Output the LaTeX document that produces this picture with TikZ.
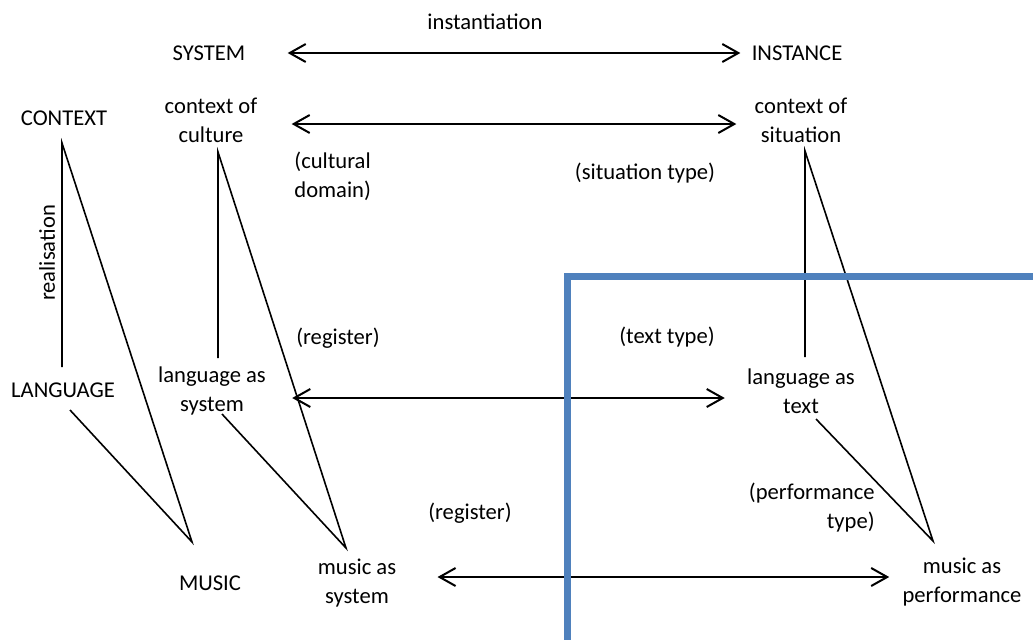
\documentclass[tikz,border=0pt]{standalone}
\usepackage{fontspec}
\setmainfont{Carlito}
\usetikzlibrary{arrows.meta}
\definecolor{boxblue}{RGB}{79,129,189}

\begin{document}
\begin{tikzpicture}[x=0.5pt, y=-0.5pt]
	\tikzstyle{term}  = [font=\fontsize{11.3}{14.5}\selectfont, inner sep=0pt, align=center]
	\tikzstyle{termL} = [term, anchor=west, align=left]
	\tikzstyle{termR} = [term, anchor=east, align=right]
	\tikzstyle{link}  = [line width=0.8pt]
	\tikzstyle{inst}  = [{Straight Barb[length=8pt,width=9pt]}-{Straight Barb[length=8pt,width=9pt]}, line width=1pt]

	\useasboundingbox (0,0) rectangle (1033,639);
	\clip (0,0) rectangle (1033,639);

	\foreach \name/\x/\y/\text in {inst/485/22/instantiation, sys/209/53/SYSTEM, instance/797/53/INSTANCE,
			ctx/64/118/CONTEXT, cult/211/120/{context of\\culture}, sit/801/120/{context of\\situation},
			sittype/645/173/{(situation type)}, reg1/338/338/{(register)}, texttype/667/337/{(text type)},
			lang/63/390/LANGUAGE, langsys/212/391/{language as\\system}, langtext/801/391/{language as\\text},
			reg2/470/513/{(register)}, music/210/583/MUSIC, musicsys/357/583/{music as\\system},
			musicperf/962/582/{music as\\performance}}
		\node[term] (\name) at (\x, \y) {\text};
	\node[termL] (culdom) at (294, 176) {(cultural\\domain)};
	\node[termR] (perftype) at (875, 508) {(performance\\type)};
	\node[term, rotate=90] (realis) at (47, 253) {realisation};

	% instantiation arrows
	\foreach \from/\to/\y/\s/\e in {sys/instance/53/21pt/5.5pt, cult/sit/124/17pt/9pt, langsys/langtext/398/13pt/11pt, musicsys/musicperf/577/20.5pt/6.5pt}
		\draw[inst, shorten <=\s, shorten >=\e] (\from.east |- 0,\y) -- (\to.west |- 0,\y);

	% realisation triangles
	\coordinate (ctxtop) at (62, 143);
	\coordinate (langtop) at (62, 367);
	\coordinate (langfoot) at (70, 410);
	\coordinate (musictip) at (192, 542);
	\coordinate (culttop) at (218, 152);
	\coordinate (langsystop) at (218, 358);
	\coordinate (langsysfoot) at (222, 414);
	\coordinate (musicsystip) at (346, 548);
	\coordinate (sittop) at (805, 151);
	\coordinate (langtexttop) at (805, 357);
	\coordinate (langtextfoot) at (816, 419);
	\coordinate (perftip) at (933, 541);
	\foreach \top/\mid/\foot/\tip in {ctxtop/langtop/langfoot/musictip, culttop/langsystop/langsysfoot/musicsystip, sittop/langtexttop/langtextfoot/perftip}
		\draw[link] (\mid) -- (\top) -- (\tip) -- (\foot);

	\draw[boxblue, line width=3.5pt] (567.5, 276.5) rectangle (1060, 660);
\end{tikzpicture}
\end{document}
